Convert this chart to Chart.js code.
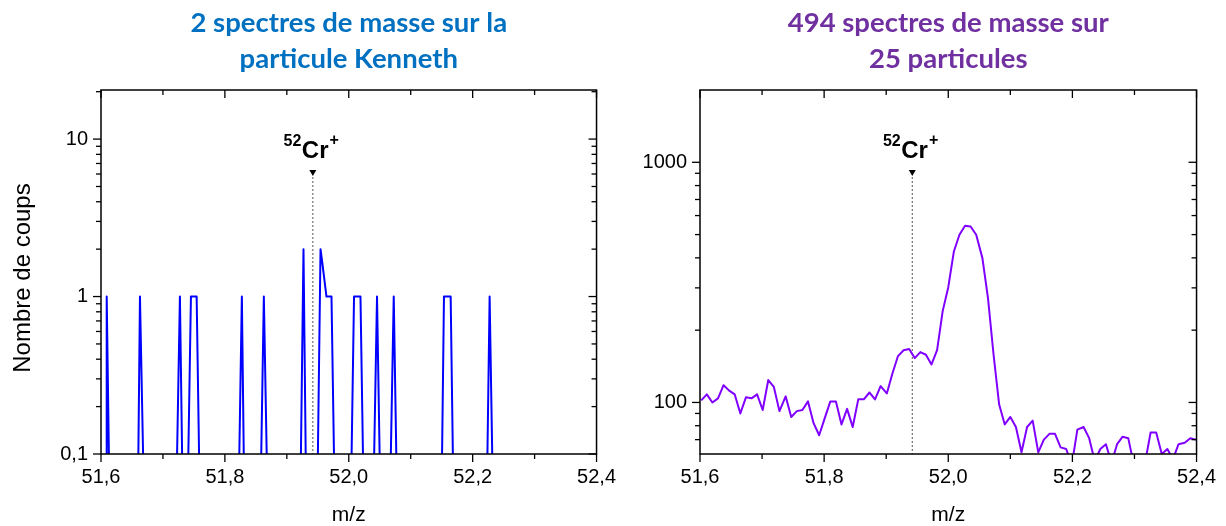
<!DOCTYPE html>
<html>
<head>
<meta charset="utf-8">
<script src="https://cdn.jsdelivr.net/npm/chart.js@4"></script>
<style>
  body { margin: 0; background: #fff; width: 1226px; height: 526px; position: relative; overflow: hidden; }
  .panel { position: absolute; top: 0; height: 526px; }
</style>
</head>
<body>
<div class="panel" style="left:0;width:627px"><canvas id="leftChart" width="627" height="526"></canvas></div>
<div class="panel" style="left:613px;width:614px"><canvas id="rightChart" width="614" height="526"></canvas></div>
<script>
// x ticks (m/z)
const xMajor = [51.6, 51.8, 52.0, 52.2, 52.4];
const xMinor = [51.7, 51.9, 52.1, 52.3];
const crMz = 51.942;

// left: 2 spectra, particle Kenneth (counts, log axis)
const leftYMajor = [0.1, 1, 10];
const leftYMinor = [0.2, 0.3, 0.4, 0.5, 0.6, 0.7, 0.8, 0.9, 2, 3, 4, 5, 6, 7, 8, 9, 20];
const leftMz = [51.600, 51.6088, 51.6092, 51.6129,
  51.6602, 51.6629, 51.6682,
  51.7226, 51.7274, 51.7311,
  51.7408, 51.7452, 51.7544, 51.7585,
  51.8231, 51.8274, 51.8306,
  51.8585, 51.8629, 51.8677,
  51.9226, 51.9269, 51.9306,
  51.9500, 51.9544, 51.9576, 51.9640, 51.9721, 51.9763,
  52.0044, 52.0085, 52.0189, 52.0231,
  52.0408, 52.0456, 52.0500,
  52.0677, 52.0726, 52.0769,
  52.1505, 52.1537, 52.1645, 52.1682,
  52.2237, 52.2274, 52.2318,
  52.400];
const leftCounts = [0, 0, 1, 0,
  0, 1, 0,
  0, 1, 0,
  0, 1, 1, 0,
  0, 1, 0,
  0, 1, 0,
  0, 2, 0,
  0, 2, 1.6, 1, 1, 0,
  0, 1, 1, 0,
  0, 1, 0,
  0, 1, 0,
  0, 1, 1, 0,
  0, 1, 0,
  0];

// right: 494 spectra, 25 particles
const rightYMajor = [100, 1000];
const rightYMinor = [70, 80, 90, 200, 300, 400, 500, 600, 700, 800, 900];
const rightMz = [51.602, 51.611, 51.620, 51.629, 51.638, 51.647, 51.656, 51.665, 51.674, 51.683,
  51.692, 51.701, 51.710, 51.719, 51.728, 51.738, 51.747, 51.756, 51.765, 51.774,
  51.783, 51.792, 51.801, 51.810, 51.819, 51.828, 51.837, 51.846, 51.855, 51.864,
  51.873, 51.882, 51.891, 51.901, 51.910, 51.919, 51.928, 51.937, 51.946, 51.955,
  51.964, 51.973, 51.982, 51.991, 52.000, 52.009, 52.018, 52.027, 52.036, 52.045,
  52.055, 52.064, 52.073, 52.082, 52.091, 52.100, 52.109, 52.118, 52.127, 52.136,
  52.145, 52.154, 52.163, 52.172, 52.181, 52.190, 52.199, 52.208, 52.218, 52.227,
  52.236, 52.245, 52.254, 52.263, 52.272, 52.281, 52.290, 52.299, 52.308, 52.317,
  52.326, 52.335, 52.344, 52.353, 52.362, 52.371, 52.381, 52.390, 52.399];
const rightCounts = [102, 108, 100, 104, 118, 112, 108, 90, 105, 104,
  108, 93, 124, 116, 92, 106, 87, 92, 93, 101,
  82, 73, 86, 101, 101, 81, 94, 79, 103, 103,
  110, 103, 117, 109, 132, 156, 165, 167, 153, 162,
  158, 144, 165, 240, 302, 425, 499, 544, 540, 499,
  399, 272, 158, 98, 81, 87, 79, 62, 79, 84,
  62, 70, 74, 74, 65, 64, 55, 77, 79, 71,
  57, 64, 67, 56, 67, 72, 71, 55, 52, 56,
  75, 75, 61, 64, 58, 67, 68, 71, 70];

const FONT = '"Liberation Sans", Arial, sans-serif';

// frame, mirrored ticks, Cr marker and y title
const decor = {
  id: 'decor',
  beforeDatasetsDraw(chart) {
    const { ctx, chartArea: a, scales: { x } } = chart;
    const mx = x.getPixelForValue(crMz);
    ctx.save();
    ctx.strokeStyle = '#555';
    ctx.lineWidth = 1;
    ctx.setLineDash([2, 2]);
    ctx.beginPath();
    ctx.moveTo(mx, a.top + 87);
    ctx.lineTo(mx, a.bottom);
    ctx.stroke();
    ctx.restore();
  },
  afterDatasetsDraw(chart, args, opts) {
    const { ctx, chartArea: a, scales: { x, y } } = chart;
    ctx.save();
    ctx.strokeStyle = '#000';
    ctx.lineWidth = 1.5;
    ctx.strokeRect(a.left, a.top, a.right - a.left, a.bottom - a.top);
    ctx.lineWidth = 1.3;
    const seg = (x1, y1, x2, y2) => { ctx.beginPath(); ctx.moveTo(x1, y1); ctx.lineTo(x2, y2); ctx.stroke(); };
    xMajor.forEach(v => { const p = x.getPixelForValue(v); seg(p, a.bottom, p, a.bottom + 8); seg(p, a.top, p, a.top + 8); });
    xMinor.forEach(v => { const p = x.getPixelForValue(v); seg(p, a.bottom, p, a.bottom + 5); seg(p, a.top, p, a.top + 5); });
    opts.yMajor.forEach(v => { const p = y.getPixelForValue(v); seg(a.left - 8, p, a.left, p); seg(a.right - 8, p, a.right, p); });
    opts.yMinor.forEach(v => {
      if (v < y.min || v > y.max) return;
      const p = y.getPixelForValue(v); seg(a.left - 5, p, a.left, p); seg(a.right - 5, p, a.right, p);
    });

    // 52Cr+ marker
    const mx = x.getPixelForValue(crMz);
    ctx.fillStyle = '#000';
    ctx.beginPath();
    ctx.moveTo(mx - 3.5, a.top + 80);
    ctx.lineTo(mx + 3.5, a.top + 80);
    ctx.lineTo(mx, a.top + 86);
    ctx.closePath();
    ctx.fill();
    ctx.textBaseline = 'alphabetic';
    ctx.font = 'bold 24px ' + FONT;
    const crLeft = mx - 11;
    const crW = ctx.measureText('Cr').width;
    ctx.textAlign = 'left';
    ctx.fillText('Cr', crLeft, a.top + 68);
    ctx.font = 'bold 16px ' + FONT;
    ctx.textAlign = 'right';
    ctx.fillText('52', crLeft - 0.5, a.top + 56);
    ctx.textAlign = 'left';
    ctx.fillText('+', crLeft + crW + 1, a.top + 55);

    if (opts.yTitle) {
      ctx.translate(23, 278);
      ctx.rotate(-Math.PI / 2);
      ctx.font = '24px ' + FONT;
      ctx.textAlign = 'center';
      ctx.textBaseline = 'middle';
      ctx.fillText(opts.yTitle, 0, 0);
    }
    ctx.restore();
  }
};

function makeChart(id, cfg) {
  return new Chart(document.getElementById(id), {
    type: 'line',
    data: {
      datasets: [{
        data: cfg.mz.map((m, i) => ({ x: m, y: Math.max(cfg.counts[i], cfg.floor) })),
        borderColor: cfg.color,
        borderWidth: 2,
        borderJoinStyle: 'round',
        pointRadius: 0,
        tension: 0,
        clip: 0
      }]
    },
    options: {
      responsive: false,
      animation: false,
      layout: { padding: { left: 0, right: 0, top: 0, bottom: 0 } },
      scales: {
        x: {
          type: 'linear', min: 51.6, max: 52.4,
          afterBuildTicks: s => { s.ticks = xMajor.map(v => ({ value: v })); },
          afterFit: s => { s.height = 72; },
          grid: { display: false, drawTicks: false },
          border: { display: false },
          ticks: {
            padding: 11, color: '#000', font: { family: FONT, size: 20 }, maxRotation: 0, autoSkip: false,
            callback: v => v.toFixed(1).replace('.', ',')
          },
          title: { display: true, text: 'm/z', color: '#000', font: { family: FONT, size: 21, lineHeight: 1 }, padding: { top: 0, bottom: 0 } }
        },
        y: {
          type: 'logarithmic', min: cfg.yMin, max: cfg.yMax,
          afterBuildTicks: s => { s.ticks = cfg.yMajor.map(v => ({ value: v })); },
          afterFit: s => { s.width = cfg.yWidth; },
          grid: { display: false, drawTicks: false },
          border: { display: false },
          ticks: {
            padding: 13, color: '#000', font: { family: FONT, size: 20 }, autoSkip: false,
            callback: v => String(v).replace('.', ',')
          }
        }
      },
      plugins: {
        legend: { display: false },
        tooltip: { enabled: false },
        title: {
          display: true, fullSize: false, text: cfg.title, color: cfg.titleColor,
          font: { family: 'Lato, "Open Sans", sans-serif', size: 27.5, weight: 'bold', lineHeight: 36 / 27.5 },
          padding: { top: 5, bottom: 13 }
        },
        decor: { yMajor: cfg.yMajor, yMinor: cfg.yMinor, yTitle: cfg.yTitle }
      }
    },
    plugins: [decor]
  });
}

makeChart('leftChart', {
  mz: leftMz, counts: leftCounts, floor: 0.09, color: '#0000FF',
  yMin: 0.1, yMax: 20.5, yMajor: leftYMajor, yMinor: leftYMinor, yWidth: 101,
  title: ['2 spectres de masse sur la', 'particule Kenneth'], titleColor: '#0070C0',
  yTitle: 'Nombre de coups'
});

makeChart('rightChart', {
  mz: rightMz, counts: rightCounts, floor: 1, color: '#8000FF',
  yMin: 61, yMax: 2000, yMajor: rightYMajor, yMinor: rightYMinor, yWidth: 87,
  title: ['494 spectres de masse sur', '25 particules'], titleColor: '#7030A0',
  yTitle: null
});
</script>
</body>
</html>
